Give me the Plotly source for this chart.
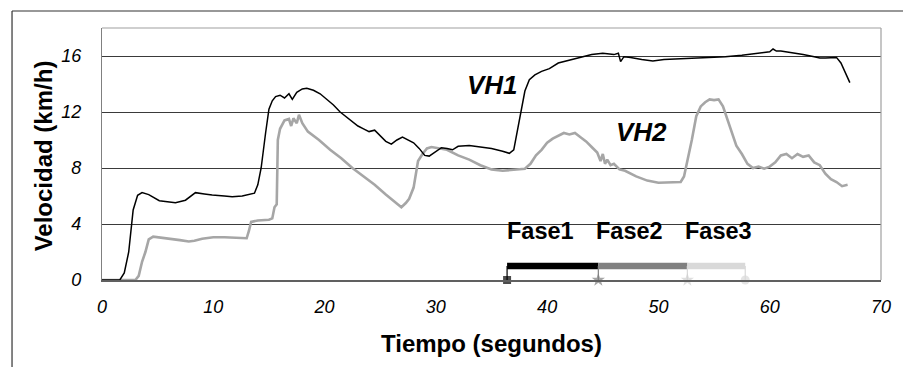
import plotly.graph_objects as go

# ---------------- data ----------------
t_vh1 = [0, 1.6, 2.0, 2.4, 2.8, 3.2, 3.6, 4.2, 5.15, 5.8, 6.6, 7.5, 8.4, 9.2, 9.9, 11.0, 11.7, 12.6,
         13.7, 14.0, 14.3, 14.7, 15.0, 15.3, 15.6, 16.0, 16.4, 16.8, 17.1, 17.5, 18.0, 18.4, 19.0,
         19.6, 20.2, 20.8, 21.4, 22.0, 22.5, 23.0, 23.5, 24.0, 24.5, 25.0, 25.5, 26.0, 26.5, 27.0,
         27.5, 28.0, 28.5, 29.0, 29.4, 30.0, 30.5, 31.0, 31.5, 32.0, 33.0, 34.0, 35.0, 36.0, 36.6,
         37.0, 37.3, 37.7, 38.0, 38.4, 38.9, 39.5, 40.2, 41.0, 42.0, 43.0, 44.0, 45.0, 46.0, 46.4,
         46.6, 46.9, 47.5, 48.5, 49.5, 50.5, 52.0, 54.0, 56.0, 57.5, 59.0, 60.0, 60.3, 60.6, 61.0,
         62.0, 63.0, 64.0, 64.5, 65.0, 65.5, 66.0, 66.4, 66.7, 67.0, 67.2]
v_vh1 = [0, 0, 0.5, 2.0, 5.0, 6.05, 6.25, 6.1, 5.66, 5.6, 5.52, 5.7, 6.24, 6.15, 6.07, 6.0, 5.95, 6.0,
         6.2, 6.8, 8.0, 10.5, 12.2, 12.8, 13.1, 13.2, 13.0, 13.3, 12.9, 13.4, 13.65, 13.7, 13.55,
         13.3, 12.9, 12.5, 12.0, 11.6, 11.3, 11.0, 10.8, 10.6, 10.7, 10.3, 9.9, 9.7, 10.0, 10.2,
         10.0, 9.8, 9.4, 8.9, 8.85, 9.2, 9.45, 9.4, 9.3, 9.55, 9.6, 9.5, 9.4, 9.2, 9.05,
         9.3, 10.5, 12.3, 13.5, 14.3, 14.65, 14.9, 15.1, 15.5, 15.7, 15.85, 16.1, 16.2, 16.1, 16.2,
         15.6, 15.95, 15.9, 15.75, 15.65, 15.75, 15.8, 15.85, 15.95, 16.05, 16.2, 16.3, 16.5, 16.35,
         16.35, 16.25, 16.1, 15.95, 15.85, 15.85, 15.9, 15.9, 15.5, 15.0, 14.4, 14.1]

t_vh2 = [0, 3.0, 3.3, 3.6, 3.9, 4.2, 4.6, 5.2, 6.0, 7.0, 7.8, 8.3, 9.0, 10.0, 11.0, 12.0, 13.0, 13.2,
         13.4, 14.0, 15.0, 15.3, 15.5, 15.7, 15.8, 16.0, 16.4, 16.8, 17.0, 17.2, 17.5, 17.7, 18.0,
         18.5, 19.5, 20.5, 21.5, 22.5, 23.5, 24.5, 25.5, 26.3, 26.9, 27.3, 27.6, 28.0, 28.4, 28.8,
         29.2, 29.6, 30.0, 30.5, 31.0, 32.0, 33.0, 34.0, 35.0, 36.0, 37.0, 38.0, 38.5, 39.0, 39.5,
         40.0, 40.5, 41.0, 41.5, 42.0, 42.5, 43.0, 43.5, 44.0, 44.5, 44.8, 45.0, 45.2, 45.4, 45.7,
         46.0, 46.5, 47.0, 48.0, 49.0, 50.0, 51.0, 52.0, 52.3, 52.6, 53.0, 53.4, 53.8, 54.2, 54.6,
         55.0, 55.4, 55.8, 56.2, 56.6, 57.0, 57.5, 58.0, 58.5, 59.0, 59.5, 60.0, 60.5, 61.0, 61.5,
         62.0, 62.5, 63.0, 63.5, 64.0, 64.5, 65.0, 65.5, 66.0, 66.5, 67.0]
v_vh2 = [0, 0, 0.3, 1.3, 2.0, 2.9, 3.1, 3.05, 2.95, 2.85, 2.75, 2.8, 2.95, 3.05, 3.05, 3.0, 2.98, 3.5,
         4.15, 4.25, 4.3, 4.4, 5.2, 5.4, 10.0, 10.8, 11.4, 11.5, 11.0, 11.55, 11.2, 11.8, 11.2,
         10.6, 10.0, 9.3, 8.7, 8.0, 7.4, 6.8, 6.1, 5.6, 5.2, 5.5, 5.8, 6.6, 8.5, 9.0,
         9.4, 9.5, 9.45, 9.4, 9.3, 8.9, 8.6, 8.2, 7.9, 7.8, 7.9, 7.95, 8.3, 8.9, 9.3,
         9.8, 10.1, 10.3, 10.5, 10.4, 10.5, 10.2, 9.9, 9.5, 9.1, 8.5, 9.0, 8.3, 8.6, 8.2,
         8.3, 7.9, 7.8, 7.4, 7.1, 6.95, 7.0, 7.0, 7.4, 8.5, 10.0, 11.7, 12.4, 12.7, 12.9,
         12.85, 12.9, 12.4, 11.5, 10.5, 9.6, 9.0, 8.3, 8.0, 8.1, 7.95, 8.1, 8.4, 8.9, 9.0,
         8.7, 9.0, 8.8, 8.9, 8.4, 8.2, 7.6, 7.2, 7.0, 6.7, 6.8]

phase_names = ["Fase1", "Fase2", "Fase3"]
phase_start = [36.4, 44.6, 52.6]
phase_end = [44.6, 52.6, 57.8]
phase_level = 1.0
phase_colors = ["#000000", "#808080", "#d9d9d9"]
phase_label_x = [39.4, 47.4, 55.4]
phase_label_y = 3.5

series_labels = ["VH1", "VH2"]
series_label_x = [35.1, 48.5]
series_label_y = [13.95, 10.6]

x_ticks = [0, 10, 20, 30, 40, 50, 60, 70]
y_ticks = [0, 4, 8, 12, 16]

FONT = "Liberation Sans, Arial, sans-serif"

fig = go.Figure()

fig.add_trace(go.Scatter(x=t_vh2, y=v_vh2, mode="lines",
                         line=dict(color="#a6a6a6", width=2.6), showlegend=False))
fig.add_trace(go.Scatter(x=t_vh1, y=v_vh1, mode="lines",
                         line=dict(color="#000000", width=1.5), showlegend=False))

# phase bars
for s, e, c in zip(phase_start, phase_end, phase_colors):
    fig.add_trace(go.Scatter(x=[s, e], y=[phase_level, phase_level], mode="lines",
                             line=dict(color=c, width=6.5), showlegend=False))
# drop lines from bar ends to axis
drop_x = phase_start + [phase_end[-1]]
drop_c = phase_colors + [phase_colors[-1]]
for s, c in zip(drop_x, drop_c):
    fig.add_trace(go.Scatter(x=[s, s], y=[phase_level, 0], mode="lines",
                             line=dict(color=c, width=1.2), showlegend=False))
# markers at axis
marker_x = phase_start + [phase_end[-1]]
marker_sym = ["square", "star", "star", "circle"]
marker_col = ["#000000", "#7f7f7f", "#d0d0d0", "#d9d9d9"]
fig.add_trace(go.Scatter(x=marker_x, y=[0, 0, 0, 0], mode="markers",
                         marker=dict(symbol=marker_sym, color=marker_col, size=[8, 10, 10, 9],
                                     line=dict(width=0)),
                         cliponaxis=False, showlegend=False))

annotations = []
for name, x in zip(phase_names, phase_label_x):
    annotations.append(dict(x=x, y=phase_label_y, xref="x", yref="y", text="<b>%s</b>" % name,
                            xanchor="center", yanchor="middle",
                            showarrow=False, font=dict(family=FONT, size=23.5, color="#000")))
for name, x, y in zip(series_labels, series_label_x, series_label_y):
    annotations.append(dict(x=x, y=y, xref="x", yref="y", text="<b><i>%s</i></b>" % name,
                            xanchor="center", yanchor="middle",
                            showarrow=False, font=dict(family=FONT, size=26, color="#000")))
annotations.append(dict(x=0.5, y=-0.25, xref="paper", yref="paper", text="<b>Tiempo (segundos)</b>",
                        xanchor="center", yanchor="middle",
                        showarrow=False, font=dict(family=FONT, size=24, color="#000")))
annotations.append(dict(x=-0.075, y=0.493, xref="paper", yref="paper", text="<b>Velocidad (km/h)</b>",
                        xanchor="center", yanchor="middle",
                        textangle=-90, showarrow=False, font=dict(family=FONT, size=24, color="#000")))

shapes = [
    # plot area border (top/right) light gray
    dict(type="line", xref="paper", yref="paper", x0=0, x1=1, y0=1, y1=1,
         line=dict(color="#a0a0a0", width=1.2)),
    dict(type="line", xref="paper", yref="paper", x0=1, x1=1, y0=0, y1=1,
         line=dict(color="#a0a0a0", width=1.2)),
    # outer frame (left and top)
    dict(type="line", xref="paper", yref="paper", x0=-0.1155, x1=-0.1155, y0=-0.36, y1=1.0675,
         line=dict(color="#333333", width=1.2)),
    dict(type="line", xref="paper", yref="paper", x0=-0.1155, x1=1.03, y0=1.0675, y1=1.0675,
         line=dict(color="#333333", width=1.2)),
]

fig.update_layout(
    width=903, height=367,
    margin=dict(l=102, r=13, t=28, b=87),
    paper_bgcolor="white", plot_bgcolor="white",
    font=dict(family=FONT, color="#000"),
    annotations=annotations, shapes=shapes,
    showlegend=False,
)
fig.update_xaxes(range=[0, 70], tickvals=x_ticks, ticktext=[str(v) for v in x_ticks],
                 showgrid=False, zeroline=False, showline=True, linecolor="#606060", linewidth=1.5,
                 ticks="outside", ticklen=10, tickcolor="rgba(0,0,0,0)",
                 tickfont=dict(family=FONT, size=18, style="italic", color="#000"))
fig.update_yaxes(range=[0, 18], tickvals=y_ticks, ticktext=[str(v) for v in y_ticks],
                 showgrid=True, gridcolor="#3a3a3a", gridwidth=1, zeroline=False,
                 showline=True, linecolor="#808080", linewidth=1.2,
                 ticks="outside", ticklen=16, tickcolor="rgba(0,0,0,0)",
                 tickfont=dict(family=FONT, size=18, style="italic", color="#000"))

fig.write_html("out.html", config={"displayModeBar": False},
               post_script="document.body.style.margin='0';document.body.style.overflow='hidden';")
